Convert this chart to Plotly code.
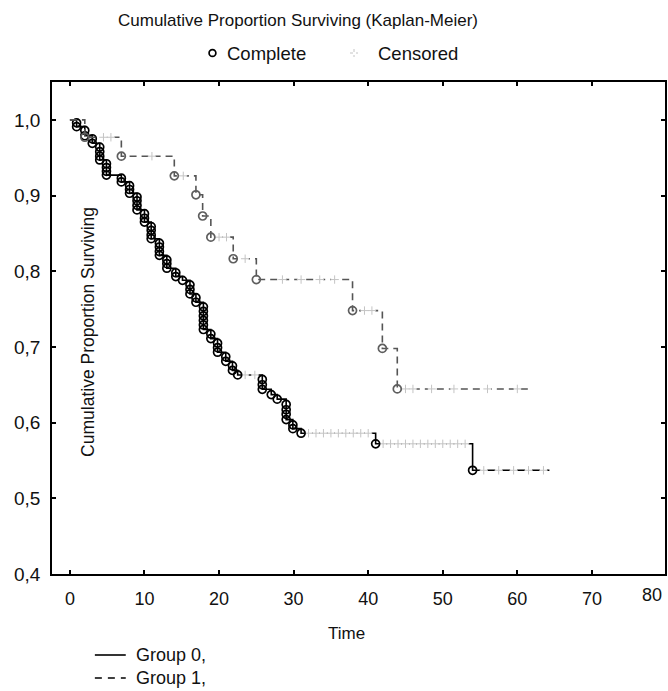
import plotly.graph_objects as go

# ---- Kaplan-Meier data -------------------------------------------------
# Group 0: event (complete) times and survival value after each event
g0_event_t = [0.9, 0.9, 2.0, 2.0, 3.0, 3.0, 4.0, 4.0, 4.0, 4.0, 4.9, 4.9, 4.9, 4.9,
              6.9, 6.9, 8.0, 8.0, 8.0, 9.0, 9.0, 9.0, 9.0, 10.0, 10.0, 10.0,
              10.9, 10.9, 10.9, 10.9, 12.0, 12.0, 12.0, 12.0, 13.0, 13.0, 13.0,
              14.2, 14.2, 15.1, 16.1, 16.1, 16.1, 16.9, 16.9,
              17.9, 17.9, 17.9, 17.9, 17.9, 17.9, 18.9, 18.9, 19.8, 19.8, 19.8,
              20.9, 20.9, 21.8, 21.8, 22.5, 25.8, 25.8, 25.8, 27.0, 27.8,
              29.0, 29.0, 29.0, 29.0, 29.9, 29.9, 31.0, 41.0, 54.0]
g0_event_s = [0.996, 0.991, 0.986, 0.979, 0.975, 0.969, 0.964, 0.958, 0.952, 0.947,
              0.942, 0.937, 0.932, 0.927, 0.923, 0.918, 0.913, 0.908, 0.903,
              0.898, 0.893, 0.887, 0.881, 0.876, 0.870, 0.865,
              0.859, 0.854, 0.848, 0.843, 0.837, 0.832, 0.826, 0.821,
              0.815, 0.810, 0.804, 0.798, 0.793, 0.788, 0.782, 0.776, 0.770,
              0.765, 0.759, 0.753, 0.747, 0.741, 0.735, 0.729, 0.723,
              0.717, 0.711, 0.705, 0.699, 0.693, 0.687, 0.681, 0.675, 0.669,
              0.663, 0.657, 0.650, 0.644, 0.637, 0.631,
              0.624, 0.617, 0.611, 0.604, 0.597, 0.592, 0.586, 0.572, 0.537]
g0_censored_t = [23.5, 24.8, 32.0, 33.0, 34.0, 35.0, 36.0, 37.0, 38.0, 39.0, 40.0,
                 42.0, 43.0, 44.0, 45.0, 46.0, 47.0, 48.0, 49.0, 50.0, 51.0, 52.0,
                 53.0, 55.5, 57.5, 59.5, 61.5, 63.5]
g0_end_t = 64.3

# Group 1
g1_event_t = [2.0, 6.9, 14.0, 16.9, 17.8, 18.9, 21.9, 25.0, 37.9, 41.9, 43.9]
g1_event_s = [0.977, 0.952, 0.926, 0.901, 0.873, 0.845, 0.8165, 0.789, 0.748, 0.698, 0.6445]
g1_censored_t = [4.5, 5.5, 11.0, 15.2, 20.0, 21.0, 23.5, 28.5, 31.0, 33.5, 35.5,
                 39.5, 40.5, 45.0, 46.0, 48.5, 51.5, 56.0, 60.0]
g1_end_t = 61.7

x_ticks = [0, 10, 20, 30, 40, 50, 60, 70]
y_ticks = [0.4, 0.5, 0.6, 0.7, 0.8, 0.9, 1.0]

FONT = "Liberation Sans, Arial, sans-serif"
TXT = "#111111"
CENS = "#c4c4c4"


def step_path(times, surv, t_end):
    xs, ys = [0.0], [1.0]
    cur = 1.0
    for t, s in zip(times, surv):
        xs += [t, t]
        ys += [cur, s]
        cur = s
    xs.append(t_end)
    ys.append(cur)
    return xs, ys


def surv_at(times, surv, t):
    cur = 1.0
    for et, s in zip(times, surv):
        if et <= t:
            cur = s
    return cur


fig = go.Figure()

groups = [
    (g0_event_t, g0_event_s, g0_censored_t, g0_end_t, "black", "solid", "black"),
    (g1_event_t, g1_event_s, g1_censored_t, g1_end_t, "#555555", "7px,5px", "#5e5e5e"),
]

for ev_t, ev_s, cen_t, t_end, lcol, dash, mcol in groups:
    xs, ys = step_path(ev_t, ev_s, t_end)
    fig.add_trace(go.Scatter(x=xs, y=ys, mode="lines",
                             line=dict(color=lcol, width=1.6, dash=dash),
                             hoverinfo="skip", showlegend=False))
    cs = [surv_at(ev_t, ev_s, t) for t in cen_t]
    # white patch under each censored mark (breaks the line), then the faint cross
    fig.add_trace(go.Scatter(x=cen_t, y=cs, mode="markers",
                             marker=dict(symbol="square", size=7, color="white",
                                         line=dict(width=0)),
                             hoverinfo="skip", showlegend=False))
    fig.add_trace(go.Scatter(x=cen_t, y=cs, mode="markers",
                             marker=dict(symbol="cross-thin-open", size=6, color=CENS,
                                         line=dict(color=CENS, width=1)),
                             hoverinfo="skip", showlegend=False))
    fig.add_trace(go.Scatter(x=ev_t, y=ev_s, mode="markers",
                             marker=dict(symbol="circle-open", size=8, color=mcol,
                                         line=dict(color=mcol, width=1.7)),
                             hoverinfo="skip", showlegend=False))

# ---- layout ------------------------------------------------------------
W, H = 668, 691
L, R, T, B = 52, 1, 82, 117
PW, PH = W - L - R, H - T - B


def px(x):
    return (x - L) / PW


def py(y):
    return (H - B - y) / PH


axis_common = dict(showgrid=False, zeroline=False, showline=True, linecolor="black",
                   linewidth=1.6, mirror="ticks", ticks="inside", ticklen=4,
                   tickwidth=1.5, tickcolor="black")

fig.update_layout(
    width=W, height=H, margin=dict(l=L, r=R, t=T, b=B),
    paper_bgcolor="white", plot_bgcolor="white", separators=",.",
    showlegend=False,
    xaxis=dict(range=[-2.4, 79.8], tickvals=x_ticks, ticktext=[str(v) for v in x_ticks],
               ticklabelstandoff=8, tickfont=dict(family=FONT, size=18, color=TXT),
               **axis_common),
    yaxis=dict(range=[0.4, 1.05], tickvals=y_ticks, tickformat=".1f",
               ticklabelstandoff=6, tickfont=dict(family=FONT, size=19, color=TXT),
               **axis_common),
)

annotations = [
    dict(text="Cumulative Proportion Surviving (Kaplan-Meier)", x=px(299), y=py(20),
         xanchor="center", size=17),
    dict(text="Complete", x=px(226), y=py(53), xanchor="left", size=18.5),
    dict(text="Censored", x=px(377), y=py(53), xanchor="left", size=18.5),
    dict(text="80", x=px(654), y=py(595), xanchor="center", size=18),
    dict(text="Time", x=px(347), y=py(633), xanchor="center", size=17),
    dict(text="Cumulative Proportion Surviving", x=px(88), y=py(332), xanchor="center",
         textangle=-90, size=17.5),
    dict(text="Group 0,", x=px(134), y=py(655), xanchor="left", size=18),
    dict(text="Group 1,", x=px(134), y=py(678), xanchor="left", size=18),
]
for a in annotations:
    fs = a.pop("size")
    a.update(xref="paper", yref="paper", showarrow=False, yanchor="middle",
             font=dict(family=FONT, size=fs, color=TXT))
fig.update_layout(annotations=annotations)

# legend glyphs drawn as paper-space shapes
r = 3.4
shapes = [
    dict(type="circle", x0=px(213 - r), x1=px(213 + r), y0=py(53 + r), y1=py(53 - r),
         line=dict(color="black", width=1.7)),
    dict(type="line", x0=px(351), x1=px(359), y0=py(53), y1=py(53),
         line=dict(color=CENS, width=1, dash="dot")),
    dict(type="line", x0=px(355), x1=px(355), y0=py(49), y1=py(57),
         line=dict(color=CENS, width=1, dash="dot")),
    dict(type="line", x0=px(95), x1=px(126), y0=py(655), y1=py(655),
         line=dict(color="black", width=1.6)),
    dict(type="line", x0=px(95), x1=px(126), y0=py(678), y1=py(678),
         line=dict(color="black", width=1.6, dash="7px,6px")),
]
for s in shapes:
    s.update(xref="paper", yref="paper")
fig.update_layout(shapes=shapes)

fig.write_html("out.html")
